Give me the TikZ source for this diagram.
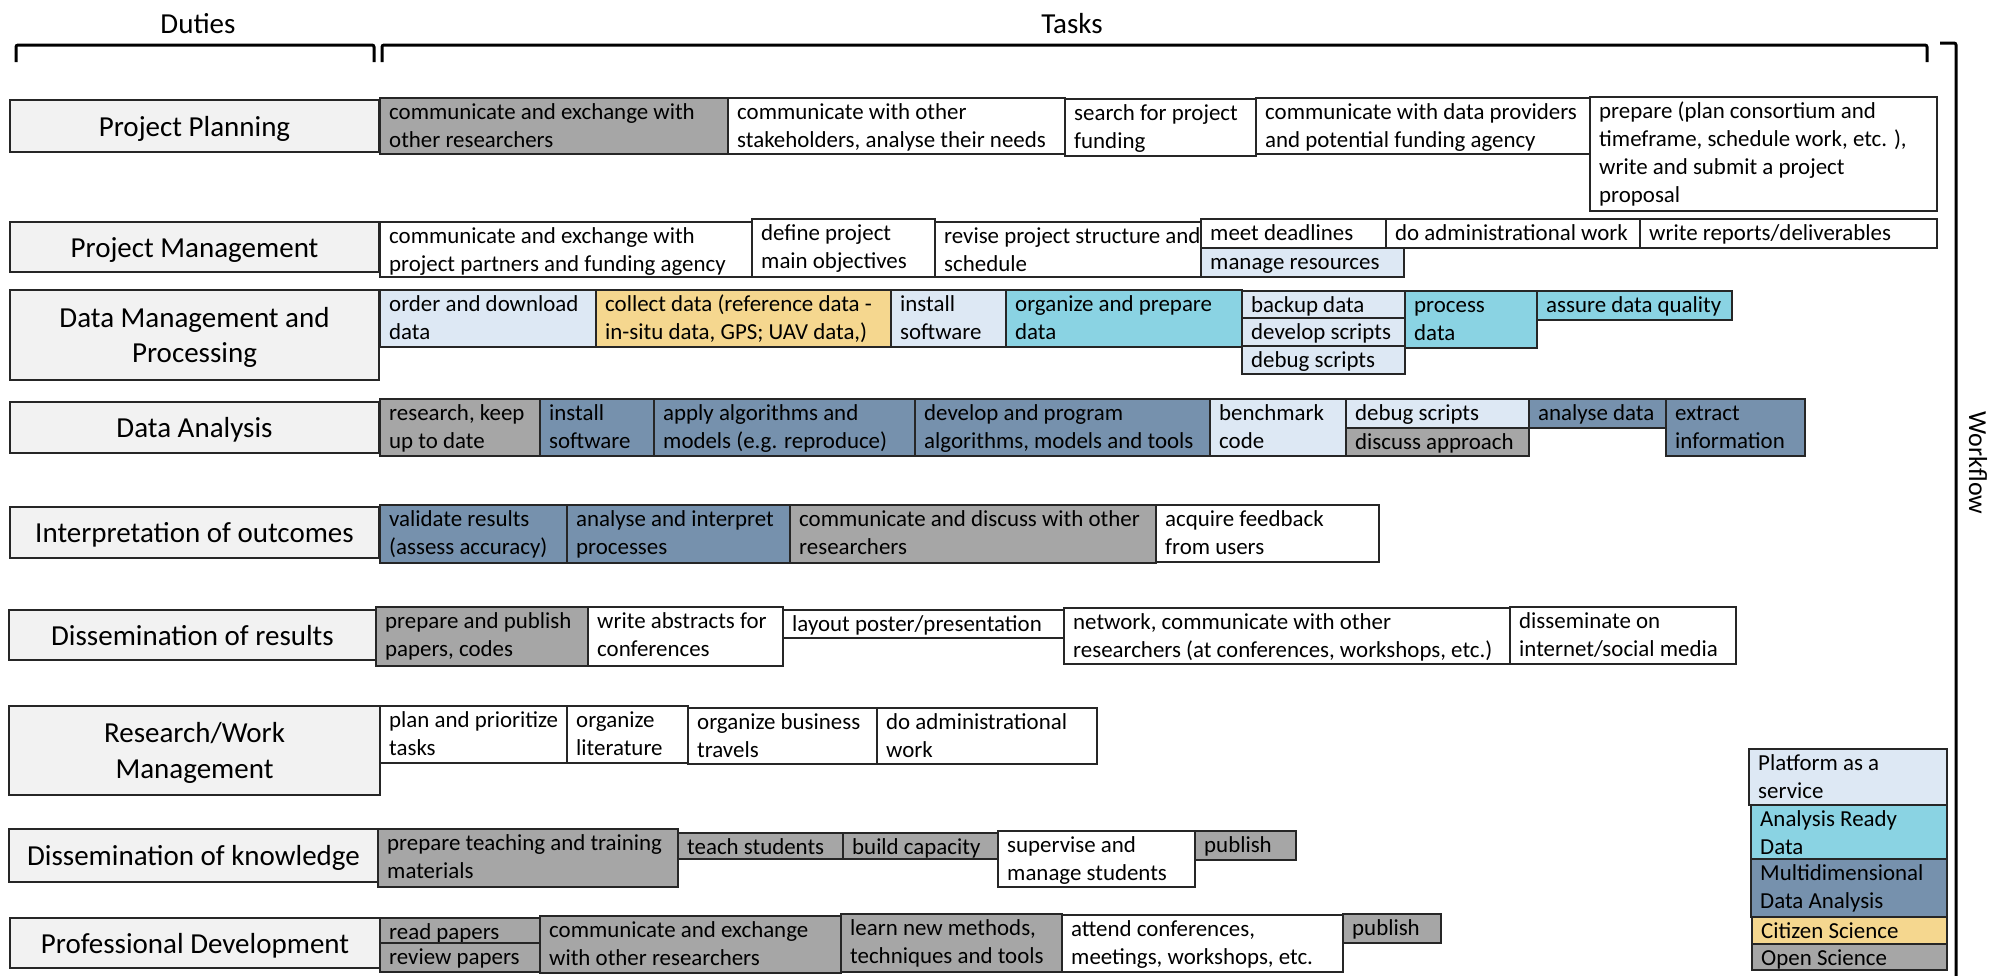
\documentclass[tikz,border=0pt]{standalone}
\usepackage{fontspec}
\setmainfont{Carlito}
\definecolor{dutyfill}{HTML}{F2F2F2}
\definecolor{opensci}{HTML}{A6A6A6}
\definecolor{multidim}{HTML}{7691AD}
\definecolor{ardcyan}{HTML}{8AD3E3}
\definecolor{paasblue}{HTML}{DDE8F4}
\definecolor{citizen}{HTML}{F5D78F}
\definecolor{edge}{HTML}{262626}

\newcommand\taskfont{\fontsize{22.9}{28}\selectfont}
\newcommand\dutyfont{\fontsize{29}{35.4}\selectfont}
\newcommand\flowfont{\fontsize{26}{31}\selectfont}
\newcommand\tlines[1]{\begin{tabular}[t]{@{}l@{}}#1\end{tabular}}
\newcommand\clines[1]{\begin{tabular}[t]{@{}c@{}}#1\end{tabular}}

\tikzset{
  cell/.style={rectangle, draw=edge, line width=1.5pt, outer sep=0pt, inner sep=0pt, anchor=north west},
  dutycell/.style={cell, fill=dutyfill, line width=1.8pt},
  tasktext/.style={font=\taskfont, inner sep=0pt, anchor=base west},
  dutytext/.style={font=\dutyfont, inner sep=0pt, anchor=base},
  bracket/.style={line width=3pt, rounded corners=2pt},
}

% task cell: name, x1, y1, x2, y2, fill, text (top-left aligned)
\newcommand\mktask[7]{%
  \node[cell, fill=#6, minimum width={(#4-#2)*1pt}, minimum height={(#5-#3)*1pt}] (#1) at (#2,#3) {};
  \node[tasktext] (#1-t) at ([xshift=9pt,yshift=-21pt]#1.north west) {\tlines{#7}};
}
% duty cell: name, x1, y1, x2, y2, number of lines, text (centred)
\newcommand\mkduty[7]{%
  \node[dutycell, minimum width={(#4-#2)*1pt}, minimum height={(#5-#3)*1pt}] (#1) at (#2,#3) {};
  \node[dutytext] (#1-t) at ([yshift={(-10+(#6-1)*17.7)*1pt}]#1.center) {\clines{#7}};
}

\begin{document}
\begin{tikzpicture}[x=1pt,y=-1pt]
\useasboundingbox (0,0) rectangle (1992,975);
\fill[white] (0,0) rectangle (1992,975);

% headers and brackets
\draw[bracket] (16,62) -- (16,45) -- (374,45) -- (374,62);
\draw[bracket] (382,62) -- (382,45) -- (1927,45) -- (1927,62);
\draw[bracket] (1940,43) -- (1956,43) -- (1956,990);
\node[dutytext] (hduties) at (198,33) {Duties};
\node[dutytext] (htasks) at (1072,33) {Tasks};
\node[font=\flowfont, inner sep=0pt, rotate=-90] (hflow) at (1978,463) {Workflow};

% duties
\mkduty{d1}{10}{100}{379}{152}{1}{Project Planning}
\mkduty{d2}{10}{222}{379}{272}{1}{Project Management}
\mkduty{d3}{10}{290}{379}{380}{2}{Data Management and\\Processing}
\mkduty{d4}{10}{402}{379}{453}{1}{Data Analysis}
\mkduty{d5}{10}{507}{379}{558}{1}{Interpretation of outcomes}
\mkduty{d6}{9}{610}{376}{660}{1}{Dissemination of results}
\mkduty{d7}{9}{706}{380}{795}{2}{Research/Work\\Management}
\mkduty{d8}{9}{829}{378}{882}{1}{Dissemination of knowledge}
\mkduty{d9}{10}{918}{380}{968}{1}{Professional Development}

% Project Planning
\mktask{a1}{380}{98}{728}{154}{opensci}{communicate and exchange with\\other researchers}
\mktask{a2}{728}{98}{1065}{154}{white}{communicate with other\\stakeholders, analyse their needs}
\mktask{a3}{1065}{99}{1256}{156}{white}{search for project\\funding}
\mktask{a4}{1256}{98}{1590}{154}{white}{communicate with data providers\\and potential funding agency}
\mktask{a5}{1590}{97}{1937}{211}{white}{prepare (plan consortium and\\timeframe, schedule work, etc. ),\\write and submit a project\\proposal}

% Project Management
\mktask{b1}{380}{222}{752}{277}{white}{communicate and exchange with\\project partners and funding agency}
\mktask{b2}{752}{219}{935}{277}{white}{define project\\main objectives}
\mktask{b3}{935}{222}{1201}{277}{white}{revise project structure and\\schedule}
\mktask{b4}{1201}{219}{1386}{248}{white}{meet deadlines}
\mktask{b5}{1201}{248}{1404}{277}{paasblue}{manage resources}
\mktask{b6}{1386}{219}{1640}{248}{white}{do administrational work}
\mktask{b7}{1640}{219}{1937}{248}{white}{write reports/deliverables}

% Data Management and Processing
\mktask{c1}{380}{290}{596}{347}{paasblue}{order and download\\data}
\mktask{c2}{596}{290}{891}{347}{citizen}{collect data (reference data -\\in-situ data, GPS; UAV data,)}
\mktask{c3}{891}{290}{1006}{347}{paasblue}{install\\software}
\mktask{c4}{1006}{290}{1242}{347}{ardcyan}{organize and prepare\\data}
\mktask{c5}{1242}{291}{1405}{318}{paasblue}{backup data}
\mktask{c6}{1242}{318}{1405}{346}{paasblue}{develop scripts}
\mktask{c7}{1242}{346}{1405}{374}{paasblue}{debug scripts}
\mktask{c8}{1405}{291}{1537}{348}{ardcyan}{process\\data}
\mktask{c9}{1537}{291}{1732}{320}{ardcyan}{assure data quality}

% Data Analysis
\mktask{e1}{380}{399}{540}{456}{opensci}{research, keep\\up to date}
\mktask{e2}{540}{399}{654}{456}{multidim}{install\\software}
\mktask{e3}{654}{399}{915}{456}{multidim}{apply algorithms and\\models (e.g. reproduce)}
\mktask{e4}{915}{399}{1210}{456}{multidim}{develop and program\\algorithms, models and tools}
\mktask{e5}{1210}{399}{1346}{456}{paasblue}{benchmark\\code}
\mktask{e6}{1346}{399}{1529}{428}{paasblue}{debug scripts}
\mktask{e7}{1346}{428}{1529}{456}{opensci}{discuss approach}
\mktask{e8}{1529}{399}{1666}{428}{multidim}{analyse data}
\mktask{e9}{1666}{399}{1805}{456}{multidim}{extract\\information}

% Interpretation of outcomes
\mktask{f1}{380}{505}{567}{563}{multidim}{validate results\\(assess accuracy)}
\mktask{f2}{567}{505}{790}{563}{multidim}{analyse and interpret\\processes}
\mktask{f3}{790}{505}{1156}{563}{opensci}{communicate and discuss with other\\researchers}
\mktask{f4}{1156}{505}{1379}{562}{white}{acquire feedback\\from users}

% Dissemination of results
\mktask{g1}{376}{607}{588}{666}{opensci}{prepare and publish\\papers, codes}
\mktask{g2}{588}{607}{783}{666}{white}{write abstracts for\\conferences}
\mktask{g3}{783}{610}{1064}{638}{white}{layout poster/presentation}
\mktask{g4}{1064}{608}{1510}{664}{white}{network, communicate with other\\researchers (at conferences, workshops, etc.)}
\mktask{g5}{1510}{607}{1736}{664}{white}{disseminate on\\internet/social media}

% Research/Work Management
\mktask{h1}{380}{706}{567}{763}{white}{plan and prioritize\\tasks}
\mktask{h2}{567}{706}{688}{763}{white}{organize\\literature}
\mktask{h3}{688}{708}{877}{764}{white}{organize business\\travels}
\mktask{h4}{877}{708}{1097}{764}{white}{do administrational\\work}

% Dissemination of knowledge
\mktask{i1}{378}{829}{678}{887}{opensci}{prepare teaching and training\\materials}
\mktask{i2}{678}{833}{843}{859}{opensci}{teach students}
\mktask{i3}{843}{833}{998}{859}{opensci}{build capacity}
\mktask{i4}{998}{831}{1195}{887}{white}{supervise and\\manage students}
\mktask{i5}{1195}{831}{1296}{860}{opensci}{publish}

% Professional Development
\mktask{j1}{380}{918}{540}{943}{opensci}{read papers}
\mktask{j2}{380}{943}{540}{972}{opensci}{review papers}
\mktask{j3}{540}{916}{841}{973}{opensci}{communicate and exchange\\with other researchers}
\mktask{j4}{841}{914}{1062}{972}{opensci}{learn new methods,\\techniques and tools}
\mktask{j5}{1062}{915}{1343}{972}{white}{attend conferences,\\meetings, workshops, etc.}
\mktask{j6}{1343}{914}{1441}{943}{opensci}{publish}

% legend
\mktask{l1}{1749}{749}{1947}{805}{paasblue}{Platform as a\\service}
\mktask{l2}{1751}{805}{1947}{859}{ardcyan}{Analysis Ready\\Data}
\mktask{l3}{1751}{859}{1947}{917}{multidim}{Multidimensional\\Data Analysis}
\mktask{l4}{1752}{917}{1947}{944}{citizen}{Citizen Science}
\mktask{l5}{1752}{944}{1947}{970}{opensci}{Open Science}
\end{tikzpicture}
\end{document}
